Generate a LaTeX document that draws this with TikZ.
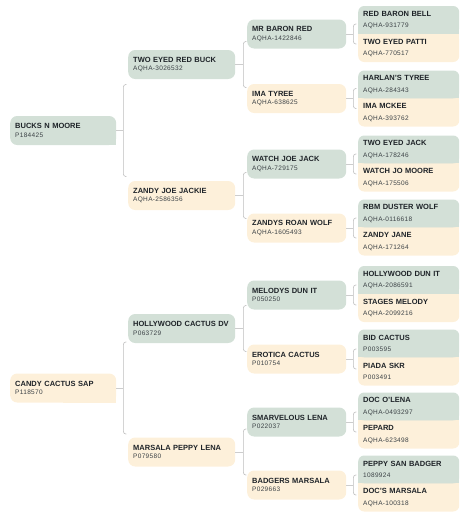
\documentclass[tikz,border=0pt]{standalone}
\usepackage{fontspec}
\setmainfont{Liberation Sans}
\newfontfamily\idfam[LetterSpace=5]{Liberation Sans}
\usetikzlibrary{backgrounds}
\definecolor{sage}{HTML}{D3E0D7}
\definecolor{cream}{HTML}{FDF0DA}
\definecolor{inkname}{HTML}{1E2328}
\definecolor{inkid}{HTML}{3C4246}
\definecolor{linegray}{HTML}{BDBDBD}
\newcommand\hname[1]{\textbf{#1}}
\newcommand\hid[1]{{\idfam\fontsize{6.5}{8}\selectfont\color{inkid}#1}}
\newcommand\pedlink[3]{%
  \draw[stub] (#1.east) -- ++(#2,0);
  \draw[brace] ([shift={(#2+3,-#3)}]#1.east) -- ++(-3,0) -- ++(0,2*#3) -- ++(3,0);}

\begin{document}
\begin{tikzpicture}[x=1pt, y=-1pt,
    horse/.style={rounded corners=7, anchor=west, inner xsep=5, inner ysep=0, align=left,
      minimum height=29, text=inkname, font=\fontsize{7.5}{8.5}\selectfont},
    g1/.style={horse, text width=96},
    g2/.style={horse, text width=97},
    g3/.style={horse, text width=89},
    g4/.style={horse, rounded corners=6, text width=91, minimum height=28,
      font=\fontsize{7.5}{11.5}\selectfont},
    stub/.style={draw=linegray!75, line width=0.6pt},
    brace/.style={draw=linegray, line width=0.6pt, rounded corners=2.5}]
    \useasboundingbox (0,0) rectangle (468,517);

    \node[g1, fill=sage] (bnm) at (10,130.5) {\hname{BUCKS N MOORE}\\\hid{P184425}};
    \node[g2, fill=sage] (tweb) at (128,64.5) {\hname{TWO EYED RED BUCK}\\\hid{AQHA-3026532}};
    \node[g2, fill=cream] (zjj) at (128,195.5) {\hname{ZANDY JOE JACKIE}\\\hid{AQHA-2586356}};
    \node[g3, fill=sage] (mbr) at (247,34) {\hname{MR BARON RED}\\\hid{AQHA-1422846}};
    \node[g3, fill=cream] (ima) at (247,98.5) {\hname{IMA TYREE}\\\hid{AQHA-638625}};
    \node[g3, fill=sage] (wjj) at (247,164) {\hname{WATCH JOE JACK}\\\hid{AQHA-729175}};
    \node[g3, fill=cream] (zrw) at (247,228) {\hname{ZANDYS ROAN WOLF}\\\hid{AQHA-1605493}};
    \node[g4, fill=sage] (rbb) at (358,20) {\hname{RED BARON BELL}\\\hid{AQHA-931779}};
    \node[g4, fill=cream] (tep) at (358,48) {\hname{TWO EYED PATTI}\\\hid{AQHA-770517}};
    \node[g4, fill=sage] (hty) at (358,84.5) {\hname{HARLAN'S TYREE}\\\hid{AQHA-284343}};
    \node[g4, fill=cream] (imc) at (358,112.5) {\hname{IMA MCKEE}\\\hid{AQHA-393762}};
    \node[g4, fill=sage] (tej) at (358,149.5) {\hname{TWO EYED JACK}\\\hid{AQHA-178246}};
    \node[g4, fill=cream] (wjm) at (358,177.5) {\hname{WATCH JO MOORE}\\\hid{AQHA-175506}};
    \node[g4, fill=sage] (rdw) at (358,213.5) {\hname{RBM DUSTER WOLF}\\\hid{AQHA-0116618}};
    \node[g4, fill=cream] (zja) at (358,241.5) {\hname{ZANDY JANE}\\\hid{AQHA-171264}};

    \node[g1, fill=cream] (ccs) at (10,388) {\hname{CANDY CACTUS SAP}\\\hid{P118570}};
    \node[g2, fill=sage] (hcd) at (128,328.5) {\hname{HOLLYWOOD CACTUS DV}\\\hid{P063729}};
    \node[g2, fill=cream] (mpl) at (128,452) {\hname{MARSALA PEPPY LENA}\\\hid{P079580}};
    \node[g3, fill=sage] (mdi) at (247,295) {\hname{MELODYS DUN IT}\\\hid{P050250}};
    \node[g3, fill=cream] (ero) at (247,359) {\hname{EROTICA CACTUS}\\\hid{P010754}};
    \node[g3, fill=sage] (sml) at (247,422) {\hname{SMARVELOUS LENA}\\\hid{P022037}};
    \node[g3, fill=cream] (bma) at (247,485) {\hname{BADGERS MARSALA}\\\hid{P029663}};
    \node[g4, fill=sage] (hdi) at (358,280) {\hname{HOLLYWOOD DUN IT}\\\hid{AQHA-2086591}};
    \node[g4, fill=cream] (sme) at (358,308) {\hname{STAGES MELODY}\\\hid{AQHA-2099216}};
    \node[g4, fill=sage] (bid) at (358,343.5) {\hname{BID CACTUS}\\\hid{P003595}};
    \node[g4, fill=cream] (pia) at (358,371.5) {\hname{PIADA SKR}\\\hid{P003491}};
    \node[g4, fill=sage] (dol) at (358,406.5) {\hname{DOC O'LENA}\\\hid{AQHA-0493297}};
    \node[g4, fill=cream] (pep) at (358,434.5) {\hname{PEPARD}\\\hid{AQHA-623498}};
    \node[g4, fill=sage] (psb) at (358,469.5) {\hname{PEPPY SAN BADGER}\\\hid{1089924}};
    \node[g4, fill=cream] (dma) at (358,497.5) {\hname{DOC'S MARSALA}\\\hid{AQHA-100318}};

    \begin{scope}[on background layer]
        \fill[sage] (bnm.center) rectangle (bnm.south east);
        \fill[cream] (ccs.center) rectangle (ccs.south east);
        \fill[sage] (rbb.west) rectangle (rbb.south east); \fill[cream] (tep.north west) rectangle (tep.east);
        \fill[sage] (hty.west) rectangle (hty.south east); \fill[cream] (imc.north west) rectangle (imc.east);
        \fill[sage] (tej.west) rectangle (tej.south east); \fill[cream] (wjm.north west) rectangle (wjm.east);
        \fill[sage] (rdw.west) rectangle (rdw.south east); \fill[cream] (zja.north west) rectangle (zja.east);
        \fill[sage] (hdi.west) rectangle (hdi.south east); \fill[cream] (sme.north west) rectangle (sme.east);
        \fill[sage] (bid.west) rectangle (bid.south east); \fill[cream] (pia.north west) rectangle (pia.east);
        \fill[sage] (dol.west) rectangle (dol.south east); \fill[cream] (pep.north west) rectangle (pep.east);
        \fill[sage] (psb.west) rectangle (psb.south east); \fill[cream] (dma.north west) rectangle (dma.east);
    \end{scope}

    \pedlink{bnm}{7}{46}
    \pedlink{tweb}{8}{23}
    \pedlink{zjj}{8}{23}
    \pedlink{mbr}{7}{10}
    \pedlink{ima}{7}{10}
    \pedlink{wjj}{7}{10}
    \pedlink{zrw}{7}{10}
    \pedlink{ccs}{7}{46}
    \pedlink{hcd}{8}{23}
    \pedlink{mpl}{8}{23}
    \pedlink{mdi}{7}{10}
    \pedlink{ero}{7}{10}
    \pedlink{sml}{7}{10}
    \pedlink{bma}{7}{10}
\end{tikzpicture}
\end{document}
